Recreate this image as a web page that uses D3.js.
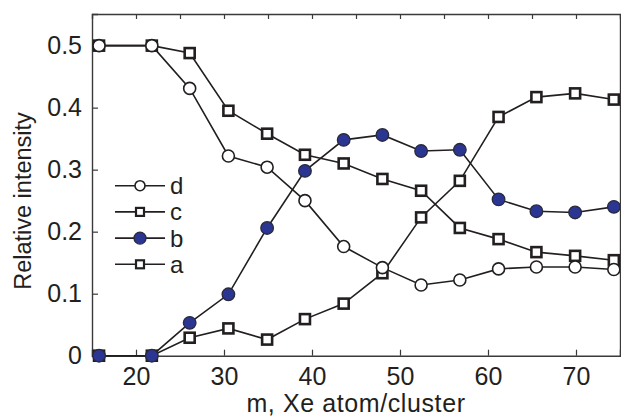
<!DOCTYPE html>
<html>
<head>
<meta charset="utf-8">
<script src="https://cdn.jsdelivr.net/npm/d3@7"></script>
<style>
  html, body { margin: 0; padding: 0; background: #fff; }
  svg { display: block; }
  text { font-family: "Liberation Sans", Arial, Helvetica, sans-serif; fill: #231f20; }
</style>
</head>
<body>
<div id="chart"></div>
<script>
// ---- Data ----
const xValues = [15.8, 21.8, 26.1, 30.5, 34.9, 39.2, 43.6, 48.0, 52.4, 56.8, 61.2, 65.5, 69.9, 74.3];
const seriesA = [0, 0, 0.029, 0.044, 0.026, 0.059, 0.084, 0.133, 0.223, 0.282, 0.385, 0.417, 0.423, 0.413];
const seriesB = [0, 0, 0.053, 0.099, 0.206, 0.298, 0.348, 0.356, 0.330, 0.332, 0.252, 0.233, 0.231, 0.240];
const seriesC = [0.5, 0.5, 0.488, 0.395, 0.358, 0.324, 0.310, 0.285, 0.266, 0.206, 0.188, 0.167, 0.161, 0.154];
const seriesD = [0.5, 0.5, 0.431, 0.322, 0.304, 0.250, 0.176, 0.142, 0.114, 0.122, 0.140, 0.143, 0.143, 0.139];
const seriesNames = ["d", "c", "b", "a"];
const xTicks = [20, 30, 40, 50, 60, 70];
const xMinorTicks = [20, 25, 30, 35, 40, 45, 50, 55, 60, 65, 70];
const yTicks = [0, 0.1, 0.2, 0.3, 0.4, 0.5];
const xLabel = "m, Xe atom/cluster";
const yLabel = "Relative intensity";

const W = 621, H = 419;
const margin = { left: 92, right: 1, top: 14, bottom: 63.3 };
const iw = W - margin.left - margin.right;
const ih = H - margin.top - margin.bottom;

const BLUE = "#2b3592";
const INK = "#231f20";

const series = [
  { name: "a", values: seriesA, shape: "square", fill: "#fff" },
  { name: "c", values: seriesC, shape: "square", fill: "#fff" },
  { name: "d", values: seriesD, shape: "circle", fill: "#fff" },
  { name: "b", values: seriesB, shape: "circle", fill: BLUE }
];

const x = d3.scaleLinear().domain([15, 75]).range([0, iw]);
const y = d3.scaleLinear().domain([0, 0.551]).range([ih, 0]);

const svg = d3.select("#chart").append("svg").attr("width", W).attr("height", H);
const g = svg.append("g").attr("transform", `translate(${margin.left},${margin.top})`);

g.append("defs").append("clipPath").attr("id", "clip")
  .append("rect").attr("x", 0).attr("y", -10).attr("width", iw).attr("height", ih + 20);

// Axes (ticks inward)
const fmtY = d => d === 0 ? "0" : d3.format(".1f")(d);
const bottomAxis = g.append("g").attr("transform", `translate(0,${ih})`)
  .call(d3.axisBottom(x).tickValues(xTicks).tickSize(-6).tickPadding(12).tickFormat(d3.format("d")));
const leftAxis = g.append("g")
  .call(d3.axisLeft(y).tickValues(yTicks).tickSize(-6).tickPadding(10).tickFormat(fmtY));
const topAxis = g.append("g")
  .call(d3.axisTop(x).tickValues(xMinorTicks).tickSize(-5).tickFormat(""));
const rightAxis = g.append("g").attr("transform", `translate(${iw},0)`)
  .call(d3.axisRight(y).tickValues([]).tickSize(0));

[bottomAxis, leftAxis, topAxis, rightAxis].forEach(a => {
  a.select(".domain").attr("stroke", "#3a3a3a").attr("stroke-width", 1.4);
  a.selectAll(".tick line").attr("stroke", "#3a3a3a").attr("stroke-width", 1.2);
  a.selectAll(".tick text").attr("fill", INK).style("font-size", "25px")
    .style("font-family", "'Liberation Sans', Arial, sans-serif");
});
bottomAxis.selectAll(".tick text").attr("dy", "0.71em");

// Axis labels
svg.append("text").attr("x", margin.left + x(45)).attr("y", 412)
  .attr("text-anchor", "middle").style("font-size", "25px").style("letter-spacing", "0.6px")
  .attr("fill", INK).text(xLabel);
svg.append("text").attr("transform", "translate(31,201) rotate(-90)")
  .attr("text-anchor", "middle").style("font-size", "23.5px").attr("fill", INK)
  .text(yLabel);

// Lines and markers
const plot = g.append("g").attr("clip-path", "url(#clip)");
const line = d3.line().x((d, i) => x(xValues[i])).y(d => y(d));

series.forEach(s => {
  plot.append("path").datum(s.values).attr("d", line)
    .attr("fill", "none").attr("stroke", INK).attr("stroke-width", 1.6);
});

function drawMarker(sel, shape, fill, cx, cy, big) {
  if (shape === "square") {
    const sz = big ? 10 : 8;
    sel.append("rect").attr("x", cx - sz / 2).attr("y", cy - sz / 2)
      .attr("width", sz).attr("height", sz)
      .attr("fill", fill).attr("stroke", INK).attr("stroke-width", big ? 2.6 : 2.2);
  } else {
    const r = fill === "#fff" ? (big ? 6 : 5) : (big ? 6.3 : 6);
    sel.append("circle").attr("cx", cx).attr("cy", cy).attr("r", r)
      .attr("fill", fill).attr("stroke", fill === "#fff" ? INK : "#2a2a3a").attr("stroke-width", fill === "#fff" ? 1.6 : 1.3);
  }
}

series.forEach(s => {
  const mg = plot.append("g");
  s.values.forEach((v, i) => drawMarker(mg, s.shape, s.fill, x(xValues[i]), y(v), true));
});

// Legend
const legendY0 = 185.7, legendDy = 26.2;
const lg = svg.append("g");
seriesNames.forEach((name, i) => {
  const s = series.find(d => d.name === name);
  const ly = legendY0 + i * legendDy;
  lg.append("line").attr("x1", 115).attr("x2", 165).attr("y1", ly).attr("y2", ly)
    .attr("stroke", INK).attr("stroke-width", 1.6);
  drawMarker(lg, s.shape, s.fill, 140, ly, false);
  lg.append("text").attr("x", 170).attr("y", ly).attr("dy", "0.35em")
    .style("font-size", "24px").attr("fill", INK).text(name);
});
</script>
</body>
</html>
